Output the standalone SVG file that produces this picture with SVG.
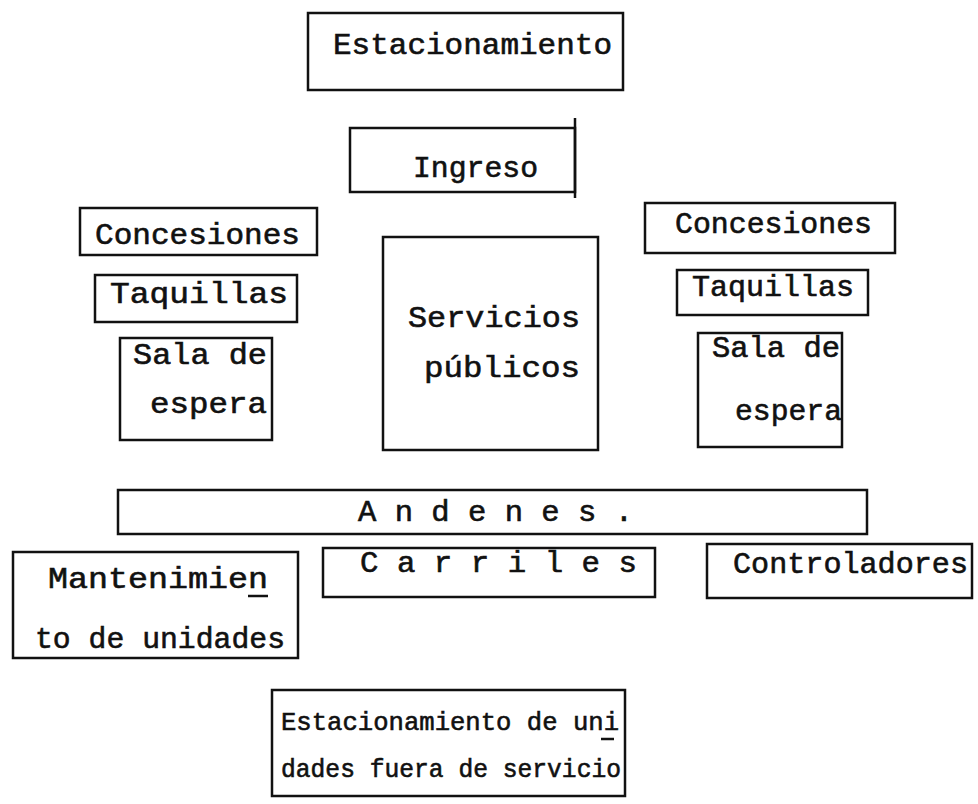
<svg xmlns="http://www.w3.org/2000/svg" width="978" height="804" viewBox="0 0 978 804">
<style>
.box{fill:none;stroke:#111;stroke-width:2.5}
.t{font-family:"Liberation Mono","Courier New",monospace;font-size:30px;fill:#111;stroke:#111;stroke-width:0.6}
.s{font-size:26px}
.u{stroke:#111;stroke-width:2.5}
</style>
<rect width="978" height="804" fill="#fff"/>
<g id="estacionamiento">
<rect class="box" x="308" y="13" width="315" height="77"/>
<text class="t" x="333" y="54" textLength="279" lengthAdjust="spacingAndGlyphs">Estacionamiento</text>
</g>
<g id="ingreso">
<rect class="box" x="350" y="128" width="225" height="64"/>
<line class="u" x1="575" y1="118" x2="575" y2="198"/>
<text class="t" x="413" y="177" textLength="125" lengthAdjust="spacingAndGlyphs">Ingreso</text>
</g>
<g id="concesiones-izq">
<rect class="box" x="80" y="208" width="237" height="47"/>
<text class="t" x="95" y="244" textLength="205" lengthAdjust="spacingAndGlyphs">Concesiones</text>
</g>
<g id="taquillas-izq">
<rect class="box" x="95" y="275" width="202" height="47"/>
<text class="t" x="110" y="303" textLength="178" lengthAdjust="spacingAndGlyphs">Taquillas</text>
</g>
<g id="sala-izq">
<rect class="box" x="120" y="338" width="152" height="102"/>
<text class="t" x="133" y="364" textLength="134" lengthAdjust="spacingAndGlyphs">Sala de</text>
<text class="t" x="150" y="413" textLength="117" lengthAdjust="spacingAndGlyphs">espera</text>
</g>
<g id="servicios">
<rect class="box" x="383" y="237" width="215" height="213"/>
<text class="t" x="408" y="327" textLength="172" lengthAdjust="spacingAndGlyphs">Servicios</text>
<text class="t" x="424" y="377" textLength="156" lengthAdjust="spacingAndGlyphs">públicos</text>
</g>
<g id="concesiones-der">
<rect class="box" x="645" y="203" width="250" height="50"/>
<text class="t" x="675" y="233" textLength="197" lengthAdjust="spacingAndGlyphs">Concesiones</text>
</g>
<g id="taquillas-der">
<rect class="box" x="677" y="270" width="191" height="45"/>
<text class="t" x="692" y="296" textLength="162" lengthAdjust="spacingAndGlyphs">Taquillas</text>
</g>
<g id="sala-der">
<rect class="box" x="698" y="333" width="144" height="114"/>
<text class="t" x="712" y="357" textLength="128" lengthAdjust="spacingAndGlyphs">Sala de</text>
<text class="t" x="735" y="420" textLength="107" lengthAdjust="spacingAndGlyphs">espera</text>
</g>
<g id="andenes">
<rect class="box" x="118" y="490" width="749" height="44"/>
<text class="t" x="358" y="521" textLength="275" lengthAdjust="spacingAndGlyphs">A n d e n e s .</text>
</g>
<g id="mantenimiento">
<rect class="box" x="13" y="552" width="285" height="106"/>
<text class="t" x="48" y="588" textLength="220" lengthAdjust="spacingAndGlyphs">Mantenimien</text>
<line class="u" x1="248" y1="596" x2="268" y2="596"/>
<text class="t" x="35" y="648" textLength="250" lengthAdjust="spacingAndGlyphs">to de unidades</text>
</g>
<g id="carriles">
<rect class="box" x="323" y="548" width="332" height="49"/>
<text class="t" x="360" y="572" textLength="277" lengthAdjust="spacingAndGlyphs">C a r r i l e s</text>
</g>
<g id="controladores">
<rect class="box" x="707" y="544" width="265" height="54"/>
<text class="t" x="733" y="573" textLength="235" lengthAdjust="spacingAndGlyphs">Controladores</text>
</g>
<g id="estacionamiento-unidades">
<rect class="box" x="272" y="690" width="353" height="106"/>
<text class="t s" x="281" y="730" textLength="338" lengthAdjust="spacingAndGlyphs">Estacionamiento de uni</text>
<line class="u" x1="601" y1="739" x2="614" y2="739"/>
<text class="t s" x="281" y="777" textLength="340" lengthAdjust="spacingAndGlyphs">dades fuera de servicio</text>
</g>
<g id="connectors"></g>
</svg>
